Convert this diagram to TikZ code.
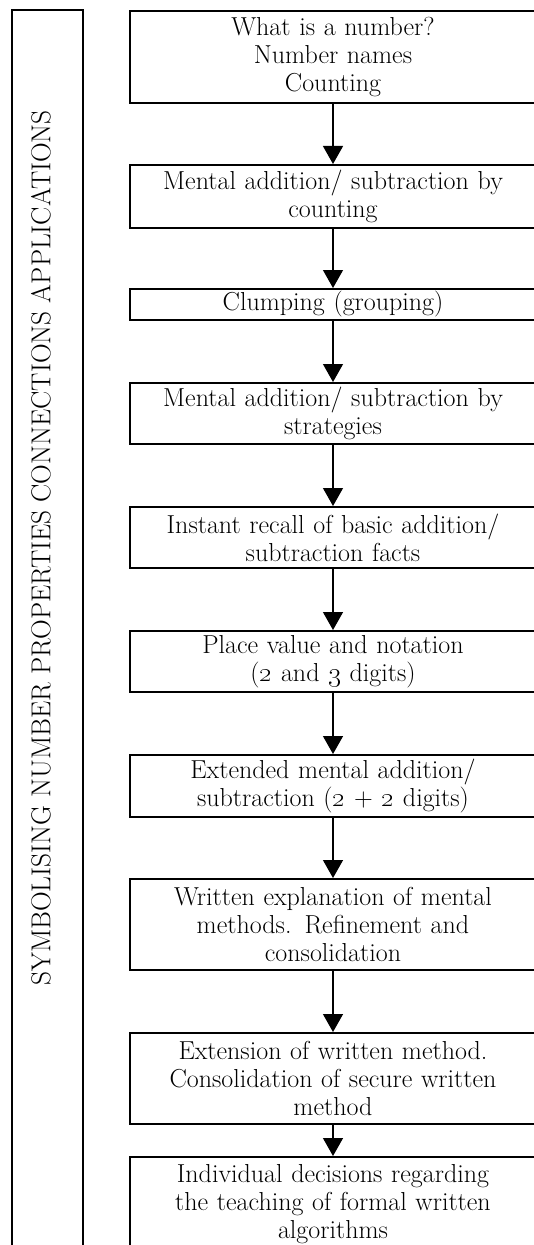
\documentclass[tikz,border=0pt]{standalone}
\usetikzlibrary{arrows.meta}
\tikzset{
  etape/.style={draw, line width=1.5pt, anchor=north, minimum width=304.5pt,
    text width=300pt, align=center, inner sep=0pt,
    font=\fontsize{19.5}{21}\selectfont},
  fleche/.style={->, line width=1pt},
}
\begin{document}
\begin{tikzpicture}[>={Triangle[width=15pt,length=13.5pt]},x=0.75pt,y=-0.75pt]
		\useasboundingbox (0,0) rectangle (534,1245);
		\clip (0,0) rectangle (534,1245);
		% Cadre gauche
		\draw[line width=1.5pt] (12,1270) -- (12,10) -- (83,10) -- (83,1270);
		\node[rotate=90, font=\fontsize{20.5}{22}\selectfont] (titre) at (41,548)
			{SYMBOLISING NUMBER PROPERTIES CONNECTIONS APPLICATIONS};
		% Etapes
		\node[etape, minimum height=69pt] (e1) at (333,10) {What is a number?\\Number names\\Counting};
		\node[etape, minimum height=47pt] (e2) at (333,164) {Mental addition/ subtraction by\\counting};
		\node[etape, minimum height=23.25pt] (e3) at (333,288) {Clumping (grouping)};
		\node[etape, minimum height=46pt] (e4) at (333,382) {Mental addition/ subtraction by\\strategies};
		\node[etape, minimum height=46pt] (e5) at (333,506) {Instant recall of basic addition/\\subtraction facts};
		\node[etape, minimum height=46pt] (e6) at (333,630) {Place value and notation\\(\oldstylenums{2} and \oldstylenums{3} digits)};
		\node[etape, minimum height=46.5pt] (e7) at (333,754) {Extended mental addition/\\subtraction (\oldstylenums{2} + \oldstylenums{2} digits)};
		\node[etape, minimum height=68.25pt] (e8) at (333,878) {Written explanation of mental\\methods. Refinement and\\consolidation};
		\node[etape, minimum height=68.25pt] (e9) at (333,1032) {Extension of written method.\\Consolidation of secure written\\method};
		\node[etape, minimum height=70pt] (e10) at (333,1156) {Individual decisions regarding\\the teaching of formal written\\algorithms};
		% Fleches
		\foreach \a/\b in {e1/e2,e2/e3,e3/e4,e4/e5,e5/e6,e6/e7,e7/e8,e8/e9,e9/e10}
			\draw[fleche] (\a.south) -- (\b.north);
\end{tikzpicture}
\end{document}
